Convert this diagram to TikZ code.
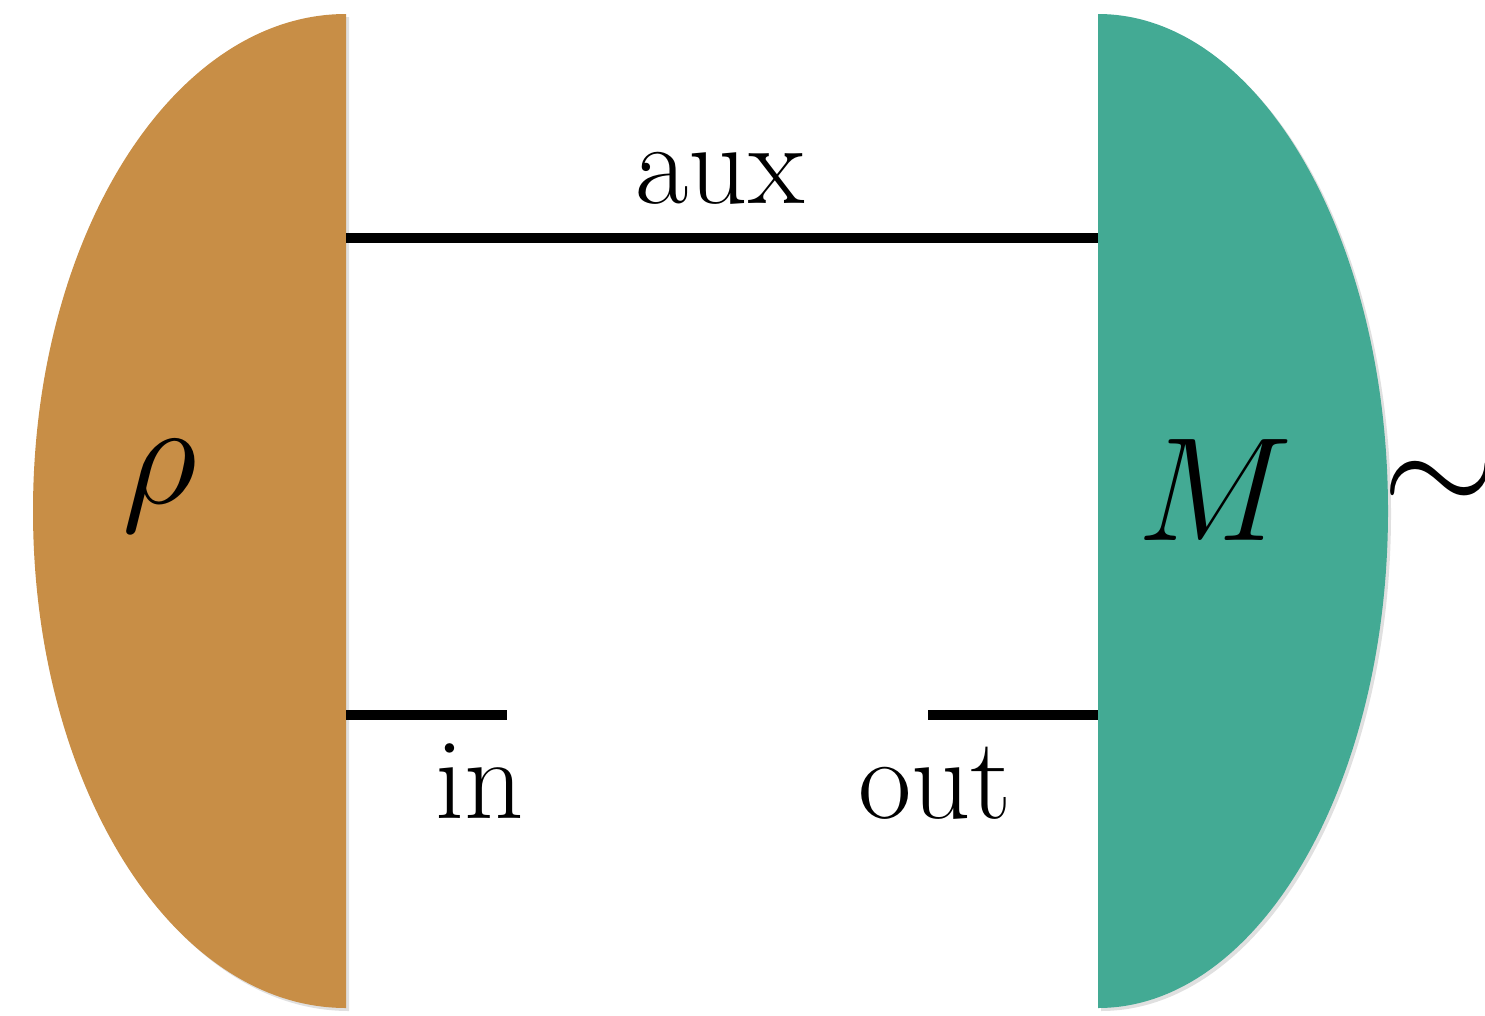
\RequirePackage{fix-cm}
\documentclass[tikz,border=0pt]{standalone}
\usepackage{tikz}
\definecolor{ocra}{RGB}{200,142,70}
\definecolor{verde}{RGB}{67,170,148}
\tikzset{
  stato/.style   = {fill=ocra},
  misura/.style  = {fill=verde},
  ombra/.style   = {fill=black, opacity=0.12},
  filo/.style    = {line width=2.6pt, line cap=butt},
  etich/.style   = {anchor=base, inner sep=0pt, font=\fontsize{33}{40}\selectfont},
  simbolo/.style = {inner sep=0pt, font=\fontsize{42}{50}\selectfont}
}
\begin{document}
\begin{tikzpicture}[x=0.01cm, y=-0.01cm]

  \clip (0,0) rectangle (1485,1015);
  \fill[white] (0,0) rectangle (1485,1015);

  % ombre
  \fill[ombra] (349,1011) arc[start angle=90, end angle=270, x radius=313, y radius=497] -- cycle;
  \fill[ombra] (1101,1011) arc[start angle=90, end angle=-90, x radius=290, y radius=497] -- cycle;

  % stato rho (sinistra)
  \fill[stato]  (346,1008) arc[start angle=90, end angle=270, x radius=313, y radius=497] -- cycle;
  % misura M (destra)
  \fill[misura] (1098,1008) arc[start angle=90, end angle=-90, x radius=290, y radius=497] -- cycle;

  \node[simbolo] (rho) at (160,486) {$\rho$};
  \node[simbolo] (emme) at (1215,490) {$M$};
  \node[simbolo, anchor=west] (tilde) at (1382,488) {$\sim$};

  % estremi dei fili
  \coordinate (auxS) at (346,238);
  \coordinate (auxD) at (1098,238);
  \coordinate (inS)  at (346,715);
  \coordinate (inD)  at (507,715);
  \coordinate (outS) at (928,715);
  \coordinate (outD) at (1098,715);

  \draw[filo] (auxS) -- (auxD);
  \draw[filo] (inS) -- (inD);
  \draw[filo] (outS) -- (outD);

  \node[etich] (laux) at (720,203) {aux};
  \node[etich] (lin)  at (480,818) {in};
  \node[etich] (lout) at (935,818) {out};

\end{tikzpicture}
\end{document}
